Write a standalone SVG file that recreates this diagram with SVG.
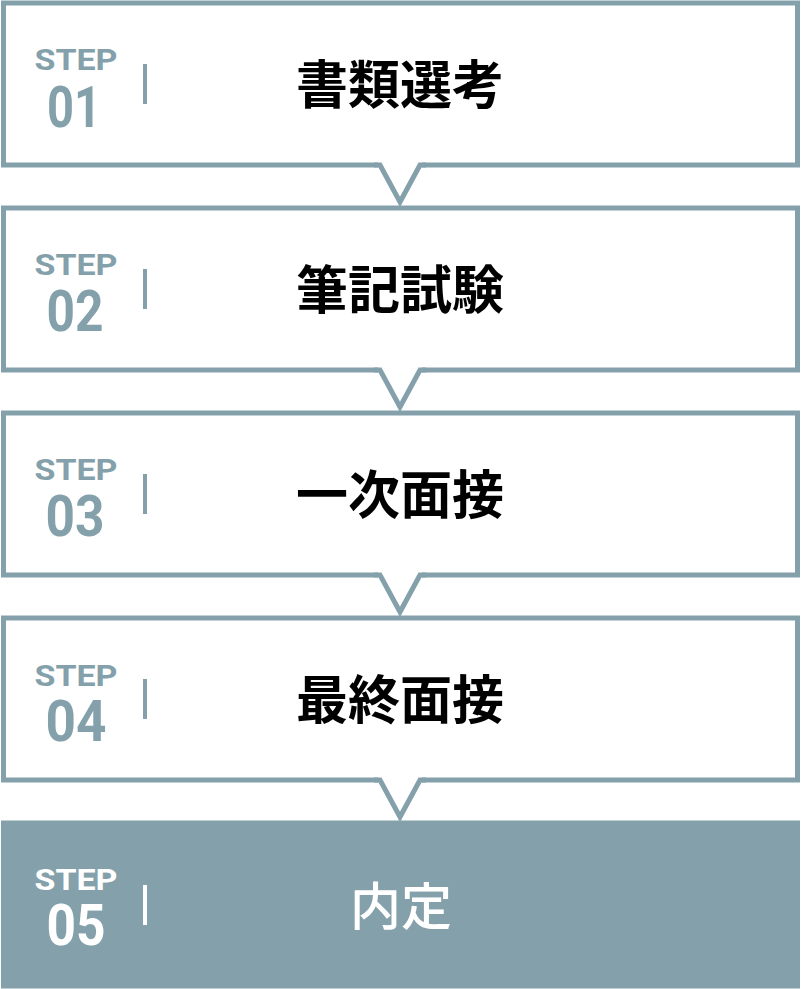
<svg xmlns="http://www.w3.org/2000/svg" width="801" height="989" viewBox="0 0 801 989">
<style>
.box{fill:#fff;stroke:#84A1AB;stroke-width:5}
.box5{fill:#84A1AB}
.step{font-family:Roboto,"Liberation Sans",sans-serif;font-weight:700;font-size:30px;fill:#84A1AB;text-anchor:middle}
.num{font-family:Roboto,"Liberation Sans",sans-serif;font-weight:700;font-size:58px;fill:#84A1AB;text-anchor:middle}
.bar{fill:#84A1AB}
.jp{font-family:"Noto Sans CJK JP","Noto Sans",sans-serif;font-weight:700;font-size:52px;fill:#000;text-anchor:middle}
.w{fill:#fff}
.gap{fill:#fff}
.v{fill:none;stroke:#84A1AB;stroke-width:5;stroke-linejoin:miter}
</style>
<g id="step1">
<rect class="box" x="3.5" y="3" width="794" height="162"/>
<text class="step" x="76" y="70" textLength="83" lengthAdjust="spacingAndGlyphs">STEP</text>
<text class="num" x="74" y="127" textLength="54" lengthAdjust="spacingAndGlyphs">01</text>
<rect class="bar" x="143" y="64" width="4" height="40"/>
<text class="jp" x="400" y="104">書類選考</text>
</g>
<g id="step2">
<rect class="box" x="3.5" y="208" width="794" height="162"/>
<text class="step" x="76" y="275" textLength="83" lengthAdjust="spacingAndGlyphs">STEP</text>
<text class="num" x="75" y="331" textLength="57" lengthAdjust="spacingAndGlyphs">02</text>
<rect class="bar" x="143" y="269" width="4" height="40"/>
<text class="jp" x="400" y="309">筆記試験</text>
</g>
<g id="step3">
<rect class="box" x="3.5" y="413" width="794" height="162"/>
<text class="step" x="76" y="480" textLength="83" lengthAdjust="spacingAndGlyphs">STEP</text>
<text class="num" x="75" y="536" textLength="59" lengthAdjust="spacingAndGlyphs">03</text>
<rect class="bar" x="143" y="474" width="4" height="40"/>
<text class="jp" x="400" y="514">一次面接</text>
</g>
<g id="step4">
<rect class="box" x="3.5" y="618" width="794" height="162"/>
<text class="step" x="76" y="686" textLength="83" lengthAdjust="spacingAndGlyphs">STEP</text>
<text class="num" x="76" y="741" textLength="61" lengthAdjust="spacingAndGlyphs">04</text>
<rect class="bar" x="143" y="679" width="4" height="40"/>
<text class="jp" x="400" y="719">最終面接</text>
</g>
<g id="step5">
<rect class="box5" x="1" y="820.5" width="799" height="168"/>
<text class="step w" x="76" y="890" textLength="83" lengthAdjust="spacingAndGlyphs">STEP</text>
<text class="num w" x="76" y="945" textLength="59" lengthAdjust="spacingAndGlyphs">05</text>
<rect class="bar w" x="143" y="885" width="4" height="40"/>
<text class="jp w" x="401" y="925" style="font-weight:500;font-size:51px">内定</text>
</g>
<g id="connectors">
<g><rect class="gap" x="378" y="161" width="44" height="8"/><path class="v" d="M374,165 H380 L400,202 L420,165 H426"/></g>
<g><rect class="gap" x="378" y="366" width="44" height="8"/><path class="v" d="M374,370 H380 L400,407 L420,370 H426"/></g>
<g><rect class="gap" x="378" y="571" width="44" height="8"/><path class="v" d="M374,575 H380 L400,612 L420,575 H426"/></g>
<g><rect class="gap" x="378" y="776" width="44" height="8"/><path class="v" d="M374,780 H380 L400,817 L420,780 H426"/></g>
</g>
</svg>
